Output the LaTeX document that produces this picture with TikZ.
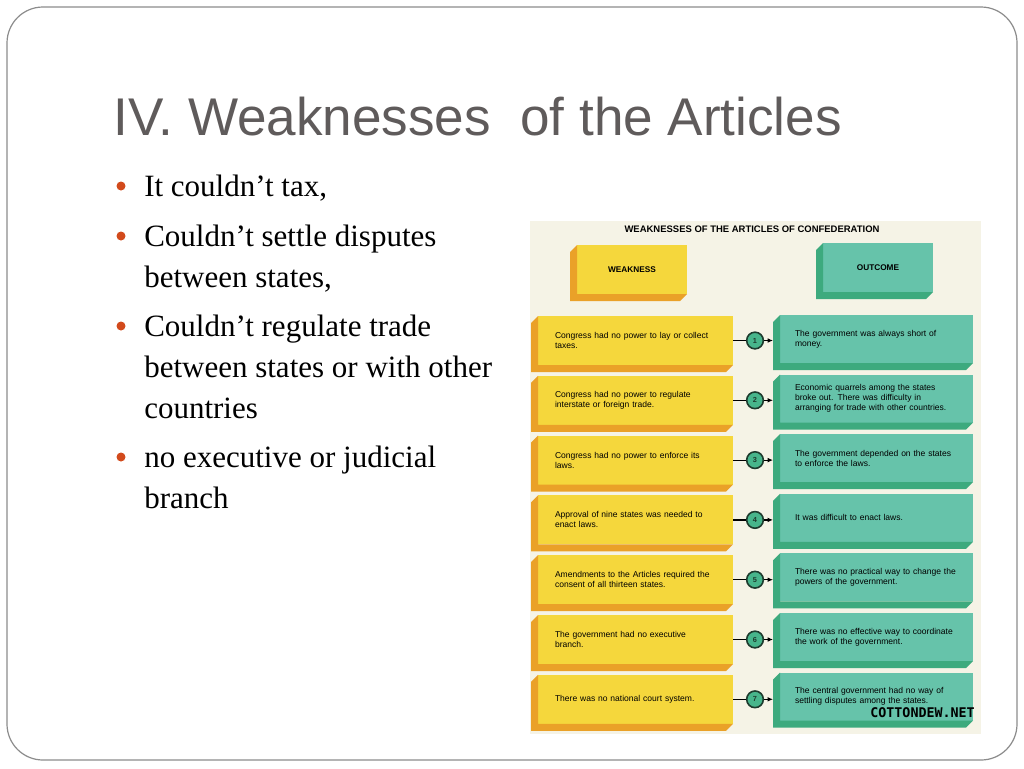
\documentclass[tikz,border=0pt]{standalone}
\usepackage{fontspec}
\setmainfont{Liberation Serif}
\setsansfont{Liberation Sans}
\newfontfamily\stampfont{DejaVu Sans Mono}
\usetikzlibrary{arrows.meta}
\definecolor{titlegray}{HTML}{5F5B5B}
\definecolor{bulletred}{HTML}{D24A1C}
\definecolor{framegray}{HTML}{8C8C8C}
\definecolor{paper}{HTML}{F5F3E6}
\definecolor{weakfront}{HTML}{F5D73C}
\definecolor{weakside}{HTML}{EAA128}
\definecolor{outfront}{HTML}{66C3AA}
\definecolor{outside}{HTML}{3DAA7E}
\definecolor{numfill}{HTML}{47B58B}
\definecolor{numline}{HTML}{1E3B2E}
% side and bottom faces of a box, drawn below-left of its front face
\newcommand{\sideface}[2]{\fill[#2] (#1.north west) -- ++(-7,7) |- ([shift={(-7,7)}]#1.south east) -- (#1.south east) -- (#1.south west) -- cycle;}
\begin{document}
\begin{tikzpicture}[x=0.75pt, y=-0.75pt,
  dot/.style={circle, fill=bulletred, minimum size=6.75pt, inner sep=0pt},
  item/.style={anchor=base west, inner sep=0pt, font=\fontsize{23.25}{30.75}\selectfont},
  weak/.style={fill=weakfront, anchor=north west, minimum height=36.75pt, text width=120.75pt, inner xsep=12.75pt, inner ysep=0pt, outer sep=0pt, align=left, font=\sffamily\fontsize{6.4}{7.5}\selectfont},
  outc/.style={fill=outfront, anchor=north west, minimum height=36pt, text width=122.25pt, inner xsep=11.25pt, inner ysep=0pt, outer sep=0pt, align=left, font=\sffamily\fontsize{6.4}{7.5}\selectfont},
  head/.style={anchor=north west, minimum width=82.5pt, minimum height=36.75pt, inner sep=0pt, outer sep=0pt, font=\sffamily\bfseries\fontsize{6.2}{7}\selectfont},
  num/.style={circle, fill=numfill, draw=numline, line width=1.2pt, minimum size=12.5pt, inner sep=0pt, text=numline, font=\sffamily\bfseries\fontsize{5.5}{6}\selectfont},
  link/.style={line width=0.9pt, black},
  arr/.style={line width=0.9pt, black, -{Latex[length=4pt, width=3.5pt]}, shorten >=5.25pt}]
\fill[white] (0,0) rectangle (1024,768);
\useasboundingbox (0,0) rectangle (1024,768);
\draw[framegray, line width=0.9pt, rounded corners=27pt] (7,7) rectangle (1017,760);

\node[anchor=base west, inner sep=0pt, text=titlegray, font=\sffamily\fontsize{39.8}{40}\selectfont] (title) at (113,135) {IV. Weaknesses\ \ of the Articles};

\node[dot] (b1) at (121,186){};
\node[item] (l1) at (144,196) {It couldn’t tax,};
\node[dot] (b2) at (121,236){};
\node[item] (l2) at (144,246) {Couldn’t settle disputes};
\node[item] (l3) at (144,287) {between states,};
\node[dot] (b3) at (121,326){};
\node[item] (l4) at (144,336) {Couldn’t regulate trade};
\node[item] (l5) at (144,377) {between states or with other};
\node[item] (l6) at (144,418) {countries};
\node[dot] (b4) at (121,457){};
\node[item] (l7) at (144,467) {no executive or judicial};
\node[item] (l8) at (144,508) {branch};

\fill[paper] (530,221) rectangle (981,734);
\node[font=\sffamily\bfseries\fontsize{7.1}{8}\selectfont] (chart) at (752,229) {WEAKNESSES OF THE ARTICLES OF CONFEDERATION};

\node[head, fill=weakfront] (hw) at (577,245) {WEAKNESS};
\sideface{hw}{weakside}
\node[head, fill=outfront] (ho) at (823,243) {OUTCOME};
\sideface{ho}{outside}

\node[weak] (y1) at (538,316) {Congress had no power to lay or collect\\taxes.};
\sideface{y1}{weakside}
\node[outc] (t1) at (780,315) {The government was always short of\\money.};
\sideface{t1}{outside}
\node[num] (n1) at (755,340.5) {1};
\draw[link] (y1.east) -- (n1);
\draw[arr] (n1) -- (n1 -| t1.west);

\node[weak] (y2) at (538,375.8) {Congress had no power to regulate\\interstate or foreign trade.};
\sideface{y2}{weakside}
\node[outc] (t2) at (780,374.6) {Economic quarrels among the states\\broke out. There was difficulty in\\arranging for trade with other countries.};
\sideface{t2}{outside}
\node[num] (n2) at (755,400.3) {2};
\draw[link] (y2.east) -- (n2);
\draw[arr] (n2) -- (n2 -| t2.west);

\node[weak] (y3) at (538,435.6) {Congress had no power to enforce its\\laws.};
\sideface{y3}{weakside}
\node[outc] (t3) at (780,434.2) {The government depended on the states\\to enforce the laws.};
\sideface{t3}{outside}
\node[num] (n3) at (755,460.1) {3};
\draw[link] (y3.east) -- (n3);
\draw[arr] (n3) -- (n3 -| t3.west);

\node[weak] (y4) at (538,495.4) {Approval of nine states was needed to\\enact laws.};
\sideface{y4}{weakside}
\node[outc] (t4) at (780,493.8) {It was difficult to enact laws.};
\sideface{t4}{outside}
\node[num] (n4) at (755,519.9) {4};
\draw[link] (y4.east) -- (n4);
\draw[arr] (n4) -- (n4 -| t4.west);

\node[weak] (y5) at (538,555.2) {Amendments to the Articles required the\\consent of all thirteen states.};
\sideface{y5}{weakside}
\node[outc] (t5) at (780,553.4) {There was no practical way to change the\\powers of the government.};
\sideface{t5}{outside}
\node[num] (n5) at (755,579.7) {5};
\draw[link] (y5.east) -- (n5);
\draw[arr] (n5) -- (n5 -| t5.west);

\node[weak] (y6) at (538,615) {The government had no executive\\branch.};
\sideface{y6}{weakside}
\node[outc] (t6) at (780,613) {There was no effective way to coordinate\\the work of the government.};
\sideface{t6}{outside}
\node[num] (n6) at (755,639.5) {6};
\draw[link] (y6.east) -- (n6);
\draw[arr] (n6) -- (n6 -| t6.west);

\node[weak] (y7) at (538,674.8) {There was no national court system.};
\sideface{y7}{weakside}
\node[outc] (t7) at (780,672.6) {The central government had no way of\\settling disputes among the states.};
\sideface{t7}{outside}
\node[num] (n7) at (755,699.3) {7};
\draw[link] (y7.east) -- (n7);
\draw[arr] (n7) -- (n7 -| t7.west);

\node[anchor=base east, inner sep=0pt, font=\stampfont\bfseries\fontsize{10}{10}\selectfont] (stamp) at (975,717) {COTTONDEW.NET};

\end{tikzpicture}
\end{document}
